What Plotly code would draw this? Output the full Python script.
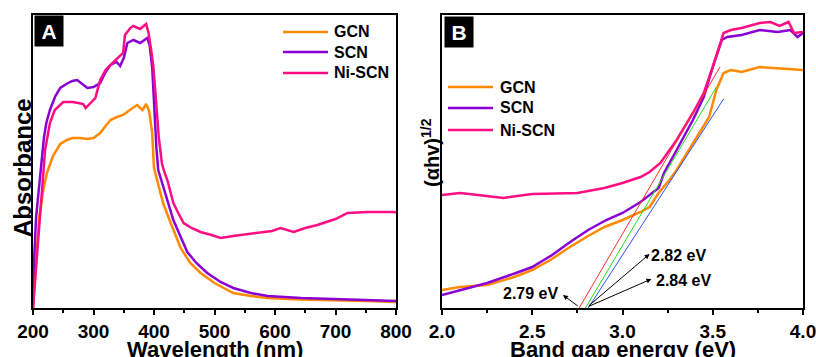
import plotly.graph_objects as go

# ---------------- Panel A data: UV-vis absorbance ----------------
wl_gcn = [200, 205, 210, 217, 223, 233, 245, 256, 265, 278, 290, 300, 311, 320, 328, 339, 349, 360, 372, 381,
          387, 392, 397, 400, 405, 415, 427, 444, 460, 477, 500, 531, 560, 588, 640, 697, 750, 800]
abs_gcn = [0.0, 0.5, 0.9, 1.18, 1.35, 1.52, 1.64, 1.68, 1.70, 1.70, 1.69, 1.70, 1.75, 1.82, 1.88, 1.91, 1.93, 1.98, 2.03, 1.98,
           2.04, 1.97, 1.75, 1.40, 1.28, 1.05, 0.86, 0.60, 0.45, 0.35, 0.25, 0.15, 0.12, 0.10, 0.085, 0.08, 0.07, 0.06]

wl_scn = [200, 202, 205, 210, 215, 218, 222, 228, 237, 245, 255, 265, 273, 282, 290, 300, 311, 320, 328, 338,
          344, 350, 356, 366, 377, 389, 393, 397, 400, 404, 407, 416, 432, 455, 470, 488, 510, 531, 560, 588,
          643, 697, 750, 800]
abs_scn = [0.0, 0.5, 0.9, 1.2, 1.45, 1.70, 1.85, 1.98, 2.12, 2.20, 2.24, 2.27, 2.28, 2.24, 2.20, 2.21, 2.25, 2.36, 2.43, 2.46,
           2.42, 2.50, 2.65, 2.68, 2.65, 2.70, 2.62, 2.41, 2.00, 1.60, 1.38, 1.20, 0.88, 0.56, 0.45, 0.35, 0.26, 0.20, 0.15, 0.12,
           0.10, 0.09, 0.08, 0.07]

wl_ni = [200, 205, 210, 215, 220, 228, 236, 250, 265, 275, 283, 287, 295, 303, 311, 320, 328, 341, 349, 352,
         361, 366, 377, 387, 391, 396, 399, 403, 408, 413, 416, 422, 432, 440, 449, 462, 477, 495, 510, 531,
         555, 576, 595, 609, 620, 631, 650, 670, 700, 720, 753, 775, 797, 800]
abs_ni = [0.0, 0.4, 0.85, 1.25, 1.58, 1.85, 1.98, 2.06, 2.06, 2.05, 2.04, 2.00, 2.05, 2.10, 2.28, 2.38, 2.43, 2.51, 2.55, 2.73,
          2.80, 2.82, 2.79, 2.84, 2.75, 2.55, 2.41, 2.10, 1.70, 1.45, 1.38, 1.28, 1.05, 0.95, 0.85, 0.80, 0.76, 0.73, 0.70, 0.72,
          0.74, 0.75, 0.77, 0.80, 0.78, 0.76, 0.80, 0.83, 0.89, 0.95, 0.96, 0.96, 0.96, 0.95]

# ---------------- Panel B data: Tauc plot ----------------
e_gcn = [2.0, 2.1, 2.25, 2.4, 2.5, 2.6, 2.7, 2.8, 2.9, 3.0, 3.1, 3.15, 3.2, 3.26, 3.3, 3.39, 3.48, 3.52, 3.56, 3.6,
         3.66, 3.76, 3.86, 4.0]
t_gcn = [0.18, 0.21, 0.23, 0.31, 0.38, 0.48, 0.60, 0.71, 0.81, 0.88, 0.96, 1.01, 1.15, 1.28, 1.38, 1.65, 1.91, 2.18, 2.35, 2.38,
         2.36, 2.41, 2.40, 2.38]

e_scn = [2.0, 2.1, 2.25, 2.41, 2.5, 2.61, 2.71, 2.81, 2.91, 3.0, 3.1, 3.2, 3.23, 3.3, 3.39, 3.45, 3.5, 3.55, 3.58, 3.66,
         3.76, 3.86, 3.93, 3.97, 4.0]
t_scn = [0.13, 0.18, 0.25, 0.35, 0.41, 0.53, 0.66, 0.78, 0.88, 0.95, 1.06, 1.20, 1.35, 1.58, 1.88, 2.11, 2.41, 2.68, 2.71, 2.73,
         2.78, 2.76, 2.78, 2.71, 2.75]

e_ni = [2.0, 2.1, 2.2, 2.34, 2.5, 2.75, 2.9, 3.0, 3.1, 3.15, 3.21, 3.3, 3.39, 3.45, 3.5, 3.56, 3.6, 3.66, 3.76, 3.82,
        3.87, 3.92, 3.95, 4.0]
t_ni = [1.13, 1.15, 1.13, 1.10, 1.14, 1.15, 1.20, 1.25, 1.31, 1.36, 1.45, 1.68, 1.95, 2.15, 2.41, 2.75, 2.78, 2.80, 2.85, 2.86,
        2.82, 2.86, 2.75, 2.76]

# tangent (linear-fit) lines: [E_start, E_end], [y_start, y_end]
fit_ni_e, fit_ni_y = [2.76, 3.54], [0.0, 2.41]
fit_scn_e, fit_scn_y = [2.795, 3.52], [0.0, 2.21]
fit_gcn_e, fit_gcn_y = [2.81, 3.56], [0.0, 2.09]

names = ["GCN", "SCN", "Ni-SCN"]
colors = ["#FF8A00", "#8A00D4", "#FF0D82"]
FONT = "Liberation Sans, Arial, sans-serif"

fig = go.Figure()
for nm, x, y, c in zip(names, [wl_gcn, wl_scn, wl_ni], [abs_gcn, abs_scn, abs_ni], colors):
    fig.add_trace(go.Scatter(x=x, y=y, mode="lines", name=nm, line=dict(color=c, width=2.5),
                             xaxis="x", yaxis="y", showlegend=False))
for nm, x, y, c in zip(names, [e_gcn, e_scn, e_ni], [t_gcn, t_scn, t_ni], colors):
    fig.add_trace(go.Scatter(x=x, y=y, mode="lines", name=nm, line=dict(color=c, width=2.5),
                             xaxis="x2", yaxis="y2", showlegend=False))
for x, y, c in [(fit_ni_e, fit_ni_y, "#FF3030"), (fit_scn_e, fit_scn_y, "#20E020"), (fit_gcn_e, fit_gcn_y, "#3050FF")]:
    fig.add_trace(go.Scatter(x=x, y=y, mode="lines", line=dict(color=c, width=1), showlegend=False,
                             xaxis="x2", yaxis="y2", hoverinfo="skip"))

W, H = 816, 357
T, B = 15, 49
PH = H - T - B


def py(p):
    return (H - B - p) / PH


axis_common = dict(showline=True, linecolor="black", linewidth=2, mirror=True, showgrid=False, zeroline=False,
                   automargin=False)
tickfont = dict(family=FONT, size=19, color="black", weight="bold")

fig.update_layout(
    width=W, height=H, margin=dict(l=0, r=0, t=T, b=B, autoexpand=False),
    paper_bgcolor="white", plot_bgcolor="white", showlegend=False,
    xaxis=dict(domain=[33 / W, 396 / W], range=[200, 800], tick0=200, dtick=100, ticks="outside", ticklen=5,
               tickwidth=2, tickcolor="black", tickfont=tickfont, anchor="y", ticklabeloverflow="allow",
               minor=dict(ticks="outside", ticklen=3, dtick=50, tickwidth=1.5, tickcolor="black"), **axis_common),
    yaxis=dict(domain=[0, 1], range=[0, 2.93], showticklabels=False, ticks="", anchor="x", **axis_common),
    xaxis2=dict(domain=[442 / W, 803 / W], range=[2, 4], tick0=2, dtick=0.5, tickformat=".1f", ticks="outside",
                ticklen=5, tickwidth=2, tickcolor="black", tickfont=tickfont, anchor="y2", ticklabeloverflow="allow",
                minor=dict(ticks="outside", ticklen=3, dtick=0.25, tickwidth=1.5, tickcolor="black"), **axis_common),
    yaxis2=dict(domain=[0, 1], range=[0, 2.93], showticklabels=False, ticks="", anchor="x2", **axis_common),
)

ann = []
shapes = []
# manual legends
legfont = dict(family=FONT, size=16, color="black", weight="bold")
for (x0, x1, xt, rows) in [(283, 328, 332, [32, 52, 73]), (448, 493, 498, [87, 108, 130])]:
    for nm, c, r in zip(names, colors, rows):
        shapes.append(dict(type="line", xref="paper", yref="paper", x0=x0 / W, x1=x1 / W, y0=py(r), y1=py(r),
                           line=dict(color=c, width=2.5)))
        ann.append(dict(text=nm, x=xt / W, y=py(r), xref="paper", yref="paper", showarrow=False,
                        xanchor="left", yanchor="middle", font=legfont))
# panel labels
for lab, cx, cy in [("A", 49, 31), ("B", 459, 32)]:
    ann.append(dict(text=lab, x=cx / W, y=py(cy), xref="paper", yref="paper", showarrow=False,
                    font=dict(family=FONT, size=21, color="white", weight="bold"), bgcolor="black",
                    width=26, height=28, xanchor="center", yanchor="middle"))
# axis titles
ann.append(dict(text="Wavelength (nm)", x=214.5 / W, y=py(349), xref="paper", yref="paper", showarrow=False,
                font=dict(family=FONT, size=22, color="black", weight="bold"), xanchor="center", yanchor="middle"))
ann.append(dict(text="Band gap energy (eV)", x=622.5 / W, y=py(349), xref="paper", yref="paper", showarrow=False,
                font=dict(family=FONT, size=22, color="black", weight="bold"), xanchor="center", yanchor="middle"))
ann.append(dict(text="Absorbance", x=22 / W, y=py(168), xref="paper", yref="paper", showarrow=False, textangle=-90,
                font=dict(family=FONT, size=24, color="black", weight="bold"), xanchor="center", yanchor="middle"))
ann.append(dict(text="(αhv)<sup>1/2</sup>", x=430 / W, y=py(153), xref="paper", yref="paper", showarrow=False,
                textangle=-90, font=dict(family=FONT, size=20, color="black", weight="bold"),
                xanchor="center", yanchor="middle"))

# band gap labels with arrows
for txt, tx, ty, hx, hy, ix in [("2.79 eV", 2.49, 0.15, 2.67, 0.13, 2.76),
                                ("2.82 eV", 3.31, 0.53, 3.15, 0.54, 2.805),
                                ("2.84 eV", 3.34, 0.28, 3.16, 0.29, 2.805)]:
    ann.append(dict(text=txt, x=tx, y=ty, xref="x2", yref="y2", showarrow=False,
                    font=dict(family=FONT, size=16, color="black", weight="bold")))
    ann.append(dict(text="", x=hx, y=hy, ax=ix, ay=0.01, xref="x2", yref="y2", axref="x2", ayref="y2",
                    showarrow=True, arrowhead=2, arrowsize=1, arrowwidth=1, arrowcolor="black", standoff=0))

fig.update_layout(annotations=ann, shapes=shapes)
fig.write_html("out.html")
